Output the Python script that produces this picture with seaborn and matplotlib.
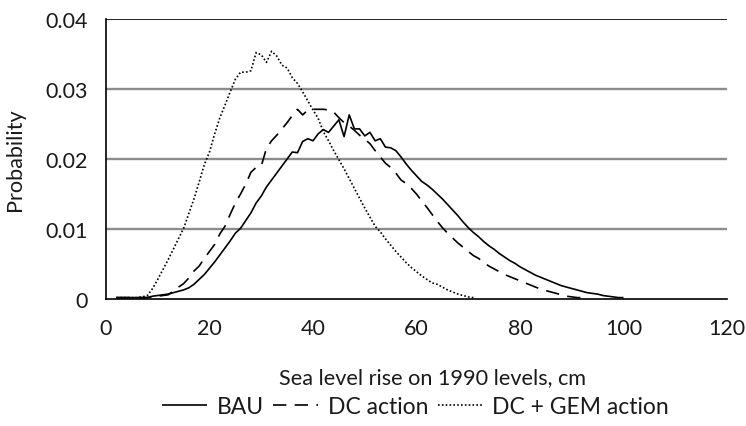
import numpy as np
import pandas as pd
import matplotlib
matplotlib.use("Agg")
import matplotlib.pyplot as plt
import seaborn as sns
from matplotlib.ticker import FuncFormatter

# Probability of sea level rise (cm above 1990 levels), one value per cm
bau_cm = list(range(2, 101))
bau_p = [
    0.0002, 0.0002, 0.0002, 0.0002, 0.0002, 0.0002, 0.0002,          # 2-8
    0.0004, 0.0005, 0.0006, 0.0007, 0.0009, 0.0011, 0.0013,          # 9-15
    0.0016, 0.0021, 0.0028, 0.0035, 0.0044, 0.0053, 0.0063,          # 16-22
    0.0073, 0.0083, 0.0094, 0.0101, 0.0112, 0.0123, 0.0137,          # 23-29
    0.0147, 0.0160, 0.0170, 0.0180, 0.0190, 0.0200, 0.0210,          # 30-36
    0.0209, 0.0225, 0.0229, 0.0226, 0.0236, 0.0242, 0.0238,          # 37-43
    0.0247, 0.0256, 0.0232, 0.0263, 0.0243, 0.0243, 0.0233,          # 44-50
    0.0238, 0.0226, 0.0229, 0.0217, 0.0216, 0.0212, 0.0203,          # 51-57
    0.0193, 0.0184, 0.0176, 0.0168, 0.0163, 0.0157, 0.0150,          # 58-64
    0.0143, 0.0135, 0.0127, 0.0119, 0.0110, 0.0102, 0.0095,          # 65-71
    0.0089, 0.0082, 0.0076, 0.0071, 0.0065, 0.0060, 0.0055,          # 72-78
    0.0051, 0.0046, 0.0042, 0.0038, 0.0034, 0.0031, 0.0028,          # 79-85
    0.0025, 0.0022, 0.0019, 0.0017, 0.0015, 0.0013, 0.0011,          # 86-92
    0.0009, 0.0008, 0.0007, 0.0005, 0.0004, 0.0003, 0.0002,          # 93-99
    0.0002,                                                          # 100
]

dc_cm = list(range(2, 93))
dc_p = [
    0.0002, 0.0002, 0.0002, 0.0002, 0.0002, 0.0002, 0.0002,          # 2-8
    0.0003, 0.0004, 0.0005, 0.0006, 0.0011, 0.0017, 0.0022,          # 9-15
    0.0030, 0.0040, 0.0047, 0.0058, 0.0068, 0.0078, 0.0093,          # 16-22
    0.0104, 0.0121, 0.0137, 0.0150, 0.0164, 0.0181, 0.0188,          # 23-29
    0.0190, 0.0215, 0.0226, 0.0234, 0.0243, 0.0252, 0.0262,          # 30-36
    0.0271, 0.0263, 0.0270, 0.0271, 0.0271, 0.0271, 0.0270,          # 37-43
    0.0267, 0.0259, 0.0252, 0.0247, 0.0241, 0.0234, 0.0228,          # 44-50
    0.0222, 0.0212, 0.0203, 0.0194, 0.0188, 0.0180, 0.0170,          # 51-57
    0.0165, 0.0158, 0.0150, 0.0140, 0.0131, 0.0121, 0.0111,          # 58-64
    0.0102, 0.0094, 0.0087, 0.0080, 0.0074, 0.0068, 0.0062,          # 65-71
    0.0058, 0.0052, 0.0047, 0.0043, 0.0039, 0.0035, 0.0032,          # 72-78
    0.0029, 0.0026, 0.0023, 0.0020, 0.0017, 0.0014, 0.0012,          # 79-85
    0.0010, 0.0008, 0.0006, 0.0004, 0.0003, 0.0002, 0.0002,          # 86-92
]

gem_cm = list(range(2, 72))
gem_p = [
    0.0002, 0.0002, 0.0002, 0.0002, 0.0002, 0.0003, 0.0005,          # 2-8
    0.0015, 0.0028, 0.0042, 0.0056, 0.0071, 0.0086, 0.0101,          # 9-15
    0.0122, 0.0143, 0.0167, 0.0192, 0.0210, 0.0236, 0.0259,          # 16-22
    0.0277, 0.0296, 0.0314, 0.0324, 0.0324, 0.0326, 0.0352,          # 23-29
    0.0349, 0.0338, 0.0354, 0.0347, 0.0334, 0.0330, 0.0316,          # 30-36
    0.0308, 0.0296, 0.0283, 0.0270, 0.0258, 0.0239, 0.0226,          # 37-43
    0.0212, 0.0199, 0.0186, 0.0172, 0.0158, 0.0144, 0.0130,          # 44-50
    0.0117, 0.0104, 0.0096, 0.0086, 0.0077, 0.0068, 0.0060,          # 51-57
    0.0052, 0.0045, 0.0039, 0.0033, 0.0028, 0.0023, 0.0021,          # 58-64
    0.0017, 0.0013, 0.0010, 0.0007, 0.0005, 0.0003, 0.0002,          # 65-71
]

series_names = ["BAU", "DC action", "DC + GEM action"]
x_ticks = [0, 20, 40, 60, 80, 100, 120]
y_ticks = [0, 0.01, 0.02, 0.03, 0.04]

frames = [
    pd.DataFrame({"rise": bau_cm, "prob": bau_p, "scenario": series_names[0]}),
    pd.DataFrame({"rise": dc_cm, "prob": dc_p, "scenario": series_names[1]}),
    pd.DataFrame({"rise": gem_cm, "prob": gem_p, "scenario": series_names[2]}),
]
df = pd.concat(frames, ignore_index=True)

sns.set_theme(style="white")
plt.rcParams["font.family"] = ["Lato", "DejaVu Sans"]

fig = plt.figure(figsize=(7.46, 4.27), dpi=100)
ax = fig.add_axes([106 / 746, 1 - 300 / 427, 621 / 746, 280 / 427])

dash_styles = {
    "BAU": (0, ()),
    "DC action": (0, (8, 5)),
    "DC + GEM action": (0, (1, 1.3)),
}
widths = {"BAU": 1.2, "DC action": 1.2, "DC + GEM action": 1.2}

# horizontal gridlines
for yv in y_ticks[1:-1]:
    ax.axhline(yv, color="#8c8c8c", lw=1.7, zorder=0)
ax.axhline(y_ticks[-1], color="#222222", lw=1.4, zorder=0)

for name in series_names:
    sub = df[df["scenario"] == name]
    sns.lineplot(data=sub, x="rise", y="prob", ax=ax, color="black",
                 lw=widths[name], linestyle=dash_styles[name], label=name,
                 legend=False)

ax.set_xlim(0, 120)
ax.set_ylim(0, 0.04)
ax.set_xticks(x_ticks)
ax.set_yticks(y_ticks)
ax.yaxis.set_major_formatter(FuncFormatter(lambda v, p: "0" if v == 0 else f"{v:.2f}"))

for side in ["top", "right"]:
    ax.spines[side].set_visible(False)
for side in ["left", "bottom"]:
    ax.spines[side].set_color("black")
    ax.spines[side].set_linewidth(1.2)

ax.tick_params(axis="both", which="major", direction="out", length=5, width=1.2,
               color="black", labelsize=15.5, labelcolor="#1a1a1a")
ax.tick_params(axis="x", pad=9)
ax.tick_params(axis="y", pad=8)

ax.set_xlabel("Sea level rise on 1990 levels, cm", fontsize=15.6, color="#1a1a1a",
              va="center")
ax.xaxis.set_label_coords(0.525, -0.279)
ax.set_ylabel("Probability", fontsize=15.6, color="#1a1a1a")
ax.yaxis.set_label_coords(-0.13, 0.5)

handles, labels = ax.get_legend_handles_labels()
fig.legend(handles, labels, loc="center", bbox_to_anchor=(0.557, 0.045), ncol=3,
           frameon=False, fontsize=16.5, handlelength=1.95, handletextpad=0.42,
           columnspacing=0.42, labelcolor="#1a1a1a", borderpad=0)

fig.savefig("out.png", dpi=100, facecolor="white")
